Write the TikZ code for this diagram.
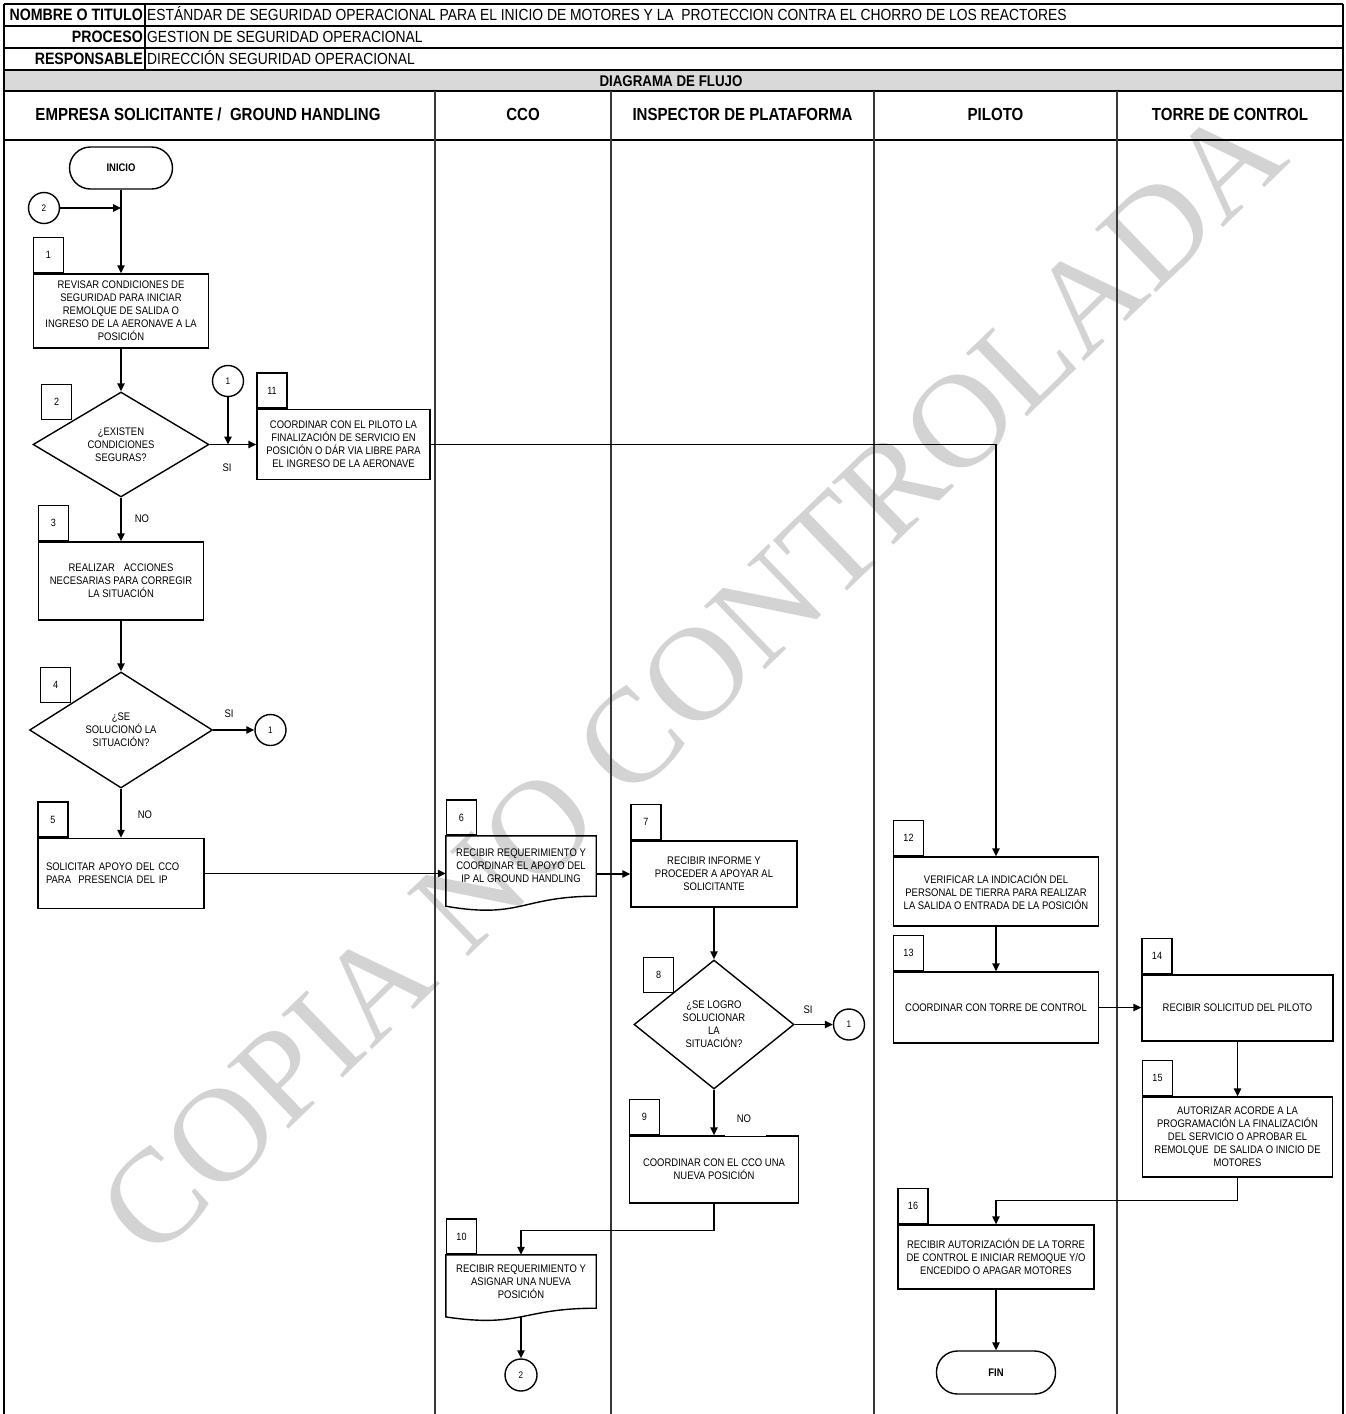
\documentclass[tikz,border=0pt]{standalone}
\usepackage{fontspec}
\setmainfont{Liberation Sans}[FakeStretch=0.86]
\newfontfamily\wmfont{Liberation Serif}
\usetikzlibrary{arrows.meta,shapes.geometric,calc}
\definecolor{wmgray}{RGB}{211,211,211}
\definecolor{hdgray}{RGB}{217,217,217}
\definecolor{lanegray}{RGB}{55,55,55}
\newcommand\fontBox{\fontsize{11}{13}\selectfont}
\newcommand\fontTab{\fontsize{10.5}{12}\selectfont}
\newcommand\fontCon{\fontsize{9.5}{11}\selectfont}
\newcommand\fontLbl{\fontsize{11}{13}\selectfont}
\newcommand\fontTerm{\fontsize{11}{13}\selectfont\bfseries}
\newcommand\fontHead{\fontsize{16.5}{19}\selectfont}
\newcommand\fontHeadTxt{\fontsize{16.1}{19}\selectfont}
\newcommand\fontDiag{\fontsize{15.5}{18}\selectfont\bfseries}
\newcommand\fontLane{\fontsize{17.5}{20}\selectfont\bfseries}
\newcommand\fontWM{\wmfont\fontsize{134}{134}\selectfont}
\tikzset{
  shp/.style={line width=1.4pt},
  box/.style={draw, shp, align=center, inner sep=2pt, font=\fontBox},
  tab/.style={draw, shp, minimum width=30pt, minimum height=35pt, inner sep=0pt, anchor=south west, font=\fontTab},
  dec/.style={draw, shp, diamond, align=center, inner sep=0pt, font=\fontBox},
  term/.style={draw, shp, rounded corners=21pt, inner sep=0pt, font=\fontTerm},
  conn/.style={draw, shp, circle, inner sep=0pt, minimum size=31pt, font=\fontCon},
  docn/.style={inner sep=2pt, align=center, font=\fontBox},
  arr/.style={shp, -{Triangle[length=8pt,width=7.5pt]}},
  lbl/.style={font=\fontLbl, inner sep=1pt},
  hd/.style={line width=2pt},
  lane/.style={line width=1.8pt, draw=lanegray},
  hlab/.style={font=\fontHead\bfseries, inner sep=0pt, anchor=base east},
  htxt/.style={font=\fontHeadTxt, inner sep=0pt, anchor=base west},
  lanehd/.style={font=\fontLane, inner sep=0pt, anchor=base},
}
\begin{document}
\begin{tikzpicture}[x=1pt,y=-1pt]
\useasboundingbox (0,0) rectangle (1346,1414);
% watermark
\node[font=\fontWM, text=wmgray, rotate=44, inner sep=0pt] (wm) at (692,680) {COPIA NO CONTROLADA};
% header
\fill[hdgray] (4,70) rectangle (1343,91);
\foreach \yy in {4,26,48,70,91,140} \draw[hd] (4,\yy) -- (1343,\yy);
\draw[hd] (4,4) -- (4,1414);
\draw[hd] (1343,4) -- (1343,1414);
\draw[hd] (145,4) -- (145,70);
\foreach \xx in {435,611,874,1117} \draw[lane] (\xx,91) -- (\xx,1414);
\node[hlab] (hl1) at (143,20.9) {NOMBRE O TITULO};
\node[hlab] (hl2) at (143,42.9) {PROCESO};
\node[hlab] (hl3) at (143,64.9) {RESPONSABLE};
\node[htxt] (ht1) at (147,20.9) {ESTÁNDAR DE SEGURIDAD OPERACIONAL PARA EL INICIO DE MOTORES Y LA~ PROTECCION CONTRA EL CHORRO DE LOS REACTORES};
\node[htxt] (ht2) at (147,42.9) {GESTION DE SEGURIDAD OPERACIONAL};
\node[htxt] (ht3) at (147,64.9) {DIRECCIÓN SEGURIDAD OPERACIONAL};
\node[font=\fontDiag, inner sep=0pt, anchor=base] (dg) at (671,86.5) {DIAGRAMA DE FLUJO};
\node[lanehd] (ln1) at (208,120.3) {EMPRESA SOLICITANTE /~ GROUND HANDLING};
\node[lanehd] (ln2) at (523,120.3) {CCO};
\node[lanehd] (ln3) at (742.5,120.3) {INSPECTOR DE PLATAFORMA};
\node[lanehd] (ln4) at (995.5,120.3) {PILOTO};
\node[lanehd] (ln5) at (1230,120.3) {TORRE DE CONTROL};

% ---- lane 1
\node[term, minimum width=103pt, minimum height=42pt] (ini) at (121,168) {INICIO};
\node[conn] (c2a) at (44,208) {2};
\node[box, minimum width=175pt, minimum height=74pt] (b1) at (121,311) {REVISAR CONDICIONES DE\\SEGURIDAD PARA INICIAR\\REMOLQUE DE SALIDA O\\INGRESO DE LA AERONAVE A LA\\POSICIÓN};
\node[tab] (t1) at (b1.north west) {1};
\node[dec, minimum width=176pt, minimum height=105pt] (dm2) at (121,444.5) {¿EXISTEN\\CONDICIONES\\SEGURAS?};
\node[tab] (t2) at (41,420) {2};
\node[conn] (c1a) at (228,381) {1};
\node[box, minimum width=173pt, minimum height=70pt] (b11) at (343.5,444.5) {COORDINAR CON EL PILOTO LA\\FINALIZACIÓN DE SERVICIO EN\\POSICIÓN O DÁR VIA LIBRE PARA\\EL INGRESO DE LA AERONAVE};
\node[tab] (t11) at (b11.north west) {11};
\node[box, minimum width=165pt, minimum height=78pt] (b3) at (121,581) {REALIZAR\hspace{9pt}ACCIONES\\NECESARIAS PARA CORREGIR\\LA SITUACIÓN};
\node[tab] (t3) at (b3.north west) {3};
\node[dec, minimum width=183pt, minimum height=116pt] (dm4) at (121,730) {¿SE\\SOLUCIONÓ LA\\SITUACIÓN?};
\node[tab] (t4) at (40,703) {4};
\node[conn] (c1b) at (270.5,730) {1};
\node[box, minimum width=166pt, minimum height=70pt, align=left, text width=150pt, inner xsep=8pt] (b5) at (121,873.5) {SOLICITAR APOYO DEL CCO\\PARA~ PRESENCIA DEL IP};
\node[tab] (t5) at (b5.north west) {5};

% ---- lane 2
\node[docn, minimum width=150pt, minimum height=60pt] (d6) at (521,866) {RECIBIR REQUERIMIENTO Y\\COORDINAR EL APOYO DEL\\IP AL GROUND HANDLING};
\draw[shp] (d6.north west) -- (d6.north east) -- (d6.south east) .. controls (d6.south) and ($(d6.south)+(0,23)$) .. ($(d6.south west)+(0,10)$) -- cycle;
\node[tab] (t6) at (d6.north west) {6};
\node[docn, minimum width=150pt, minimum height=53pt] (d10) at (521,1281.5) {RECIBIR REQUERIMIENTO Y\\ASIGNAR UNA NUEVA\\POSICIÓN};
\draw[shp] (d10.north west) -- (d10.north east) -- (d10.south east) .. controls (d10.south) and ($(d10.south)+(0,20)$) .. ($(d10.south west)+(0,8.7)$) -- cycle;
\node[tab] (t10) at (d10.north west) {10};
\coordinate (d10b) at ($(d10.south)+(0,8.6)$);
\node[conn, minimum size=32pt] (c2b) at (521,1375) {2};

% ---- lane 3
\node[box, minimum width=166pt, minimum height=66pt] (b7) at (714,874) {RECIBIR INFORME Y\\PROCEDER A APOYAR AL\\SOLICITANTE};
\node[tab] (t7) at (b7.north west) {7};
\node[dec, minimum width=160pt, minimum height=129pt] (dm8) at (714,1024.5) {¿SE LOGRO\\SOLUCIONAR\\LA\\SITUACIÓN?};
\node[tab] (t8) at (643,993) {8};
\node[conn] (c1c) at (849,1024.5) {1};
\node[box, minimum width=169pt, minimum height=67pt] (b9) at (714,1169.5) {COORDINAR CON EL CCO UNA\\NUEVA POSICIÓN};
\node[tab] (t9) at (b9.north west) {9};
\draw[white, line width=1.6pt] ($(b9.north)+(11,0)$) -- ($(b9.north)+(52,0)$);

% ---- lane 4
\node[box, minimum width=205pt, minimum height=69pt] (b12) at (996,891.5) {VERIFICAR LA INDICACIÓN DEL\\PERSONAL DE TIERRA PARA REALIZAR\\LA SALIDA O ENTRADA DE LA POSICIÓN};
\node[tab] (t12) at (b12.north west) {12};
\node[box, minimum width=205pt, minimum height=71pt] (b13) at (996,1007.5) {COORDINAR CON TORRE DE CONTROL};
\node[tab] (t13) at (b13.north west) {13};
\node[box, minimum width=196pt, minimum height=64pt] (b16) at (996,1257) {RECIBIR AUTORIZACIÓN DE LA TORRE\\DE CONTROL E INICIAR REMOQUE Y/O\\ENCEDIDO O APAGAR MOTORES};
\node[tab] (t16) at (b16.north west) {16};
\node[term, minimum width=119pt, minimum height=43pt] (fin) at (996,1372.5) {FIN};

% ---- lane 5
\node[box, minimum width=191pt, minimum height=66pt] (b14) at (1237.5,1008) {RECIBIR SOLICITUD DEL PILOTO};
\node[tab] (t14) at (b14.north west) {14};
\node[box, minimum width=190pt, minimum height=80pt] (b15) at (1237.5,1137) {AUTORIZAR ACORDE A LA\\PROGRAMACIÓN LA FINALIZACIÓN\\DEL SERVICIO O APROBAR EL\\REMOLQUE~ DE SALIDA O INICIO DE\\MOTORES};
\node[tab] (t15) at (b15.north west) {15};

% ---- labels
\node[lbl] (si1) at (227,468) {SI};
\node[lbl] (no1) at (142,519) {NO};
\node[lbl] (si2) at (229,714) {SI};
\node[lbl] (no2) at (145,815) {NO};
\node[lbl] (si3) at (808,1010) {SI};
\node[lbl] (no3) at (744,1119) {NO};

% ---- connectors
\draw[arr] (c2a.east) -- (c2a.east -| ini.south);
\draw[arr] (ini.south) -- (b1.north);
\draw[arr] (b1.south) -- (dm2.north);
\draw[arr] (dm2.east) -- (b11.west);
\draw[arr] (c1a.south) -- (c1a.south |- dm2.east);
\draw[arr] (b11.east) -| (b12.north);
\draw[arr] (dm2.south) -- (b3.north);
\draw[arr] (b3.south) -- (dm4.north);
\draw[arr] (dm4.east) -- (c1b.west);
\draw[arr] (dm4.south) -- (b5.north);
\draw[arr] (b5.east) -- (b5.east -| d6.west);
\draw[arr] (b7.west -| d6.east) -- (b7.west);
\draw[arr] (b7.south) -- (dm8.north);
\draw[arr] (dm8.east) -- (c1c.west);
\draw[arr] (dm8.south) -- (b9.north);
\draw[arr] (b9.south) -- ++(0,27) -| (d10.north);
\draw[arr] (d10b) -- (c2b.north);
\draw[arr] (b12.south) -- (b13.north);
\draw[arr] (b13.east) -- (b13.east -| b14.west);
\draw[arr] (b14.south) -- (b15.north);
\draw[arr] (b15.south) -- ++(0,23) -| (b16.north);
\draw[arr] (b16.south) -- (fin.north);
\end{tikzpicture}
\end{document}
